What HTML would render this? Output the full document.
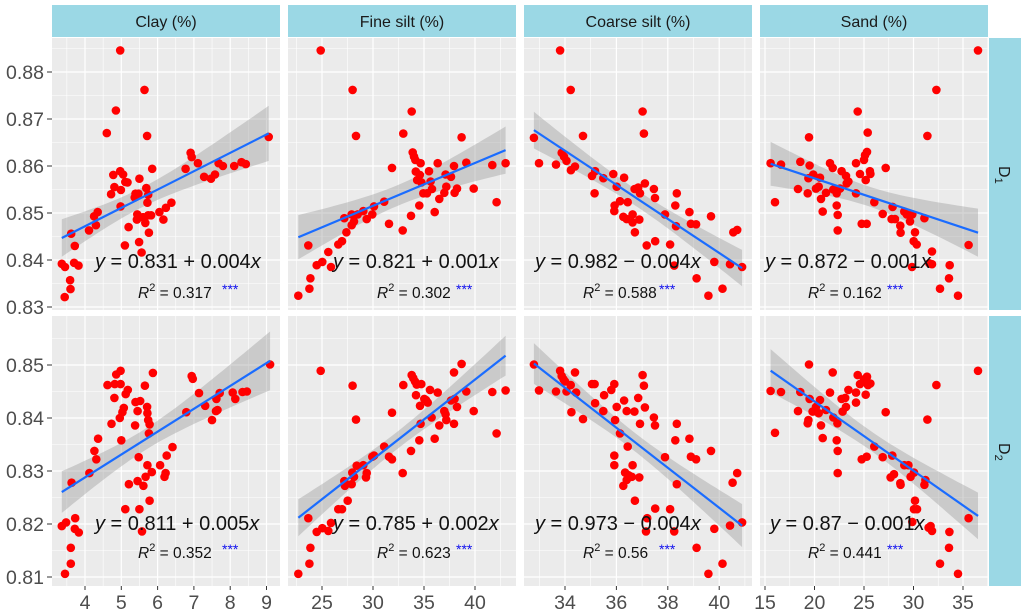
<!DOCTYPE html>
<html><head><meta charset="utf-8"><style>
html,body{margin:0;padding:0;background:#fff;width:1024px;height:616px;overflow:hidden;}
svg{display:block;font-family:"Liberation Sans",Arial,sans-serif;}
</style></head><body>
<svg id="chart" width="1024" height="616" viewBox="0 0 1024 616" xmlns="http://www.w3.org/2000/svg"></svg>
<script>
// ---------- DATA ----------
const columnTitles = ["Clay (%)", "Fine silt (%)", "Coarse silt (%)", "Sand (%)"];
const rowTitles = ["D", "D"];
const rowSubs = ["1", "2"];
const yTicksRow1 = [0.83, 0.84, 0.85, 0.86, 0.87, 0.88];
const yTicksRow2 = [0.81, 0.82, 0.83, 0.84, 0.85];
const xTicksClay = [4, 5, 6, 7, 8, 9];
const xTicksFine = [25, 30, 35, 40];
const xTicksCoarse = [34, 36, 38, 40];
const xTicksSand = [15, 20, 25, 30, 35];
const eqLabels = [
  ["0.831 + 0.004", "0.821 + 0.001", "0.982 \u2212 0.004", "0.872 \u2212 0.001"],
  ["0.811 + 0.005", "0.785 + 0.002", "0.973 \u2212 0.004", "0.87 \u2212 0.001"]
];
const r2Labels = [
  ["0.317", "0.302", "0.588", "0.162"],
  ["0.352", "0.623", "0.56", "0.441"]
];
const clayD1 = [[3.36,.8392],[3.45,.8385],[3.44,.8321],[3.60,.8338],[3.59,.8357],[3.62,.8456],[3.72,.8430],[3.70,.8394],[3.82,.8388],[4.11,.8463],[4.25,.8493],[4.30,.8474],[4.35,.8502],[4.60,.8670],[4.72,.8540],[4.78,.8581],[4.81,.8555],[4.85,.8718],[4.97,.8846],[4.97,.8589],[4.99,.8549],[4.98,.8514],[5.05,.8582],[5.11,.8566],[5.17,.8565],[5.10,.8431],[5.20,.8470],[5.37,.8533],[5.39,.8541],[5.47,.8541],[5.50,.8573],[5.44,.8497],[5.43,.8486],[5.49,.8438],[5.56,.8416],[5.60,.8491],[5.66,.8479],[5.64,.8762],[5.71,.8664],[5.69,.8553],[5.72,.8522],[5.74,.8539],[5.76,.8458],[5.74,.8495],[5.82,.8495],[5.85,.8594],[6.05,.8502],[6.16,.8486],[6.23,.8511],[6.38,.8522],[6.77,.8594],[6.91,.8628],[6.94,.8619],[7.11,.8606],[7.28,.8577],[7.47,.8573],[7.58,.8582],[7.68,.8606],[7.80,.8600],[8.11,.8600],[8.31,.8608],[8.43,.8604],[9.06,.8662]];
const fineD1 = [[22.68,.8324],[23.76,.8339],[23.86,.8361],[23.66,.8431],[24.48,.8389],[25.03,.8396],[25.62,.8417],[25.88,.8385],[24.87,.8846],[26.6,.8433],[26.96,.8440],[27.39,.8459],[27.19,.8489],[27.91,.8474],[28.14,.8482],[28.0,.8762],[28.33,.8664],[27.91,.8497],[28.5,.8497],[29.05,.8504],[29.38,.8487],[29.93,.8497],[30.1,.8514],[31.1,.8524],[31.57,.8477],[31.86,.8596],[32.91,.8463],[32.97,.8669],[33.73,.8494],[33.79,.8716],[33.89,.8629],[34.02,.8620],[34.15,.8613],[34.67,.8606],[34.2,.8588],[34.33,.8570],[34.59,.8581],[34.75,.8565],[34.54,.8516],[34.93,.8542],[35.49,.8589],[35.65,.8567],[35.78,.8551],[35.29,.8542],[36.05,.8502],[36.34,.8606],[36.5,.8530],[36.99,.8543],[37.12,.8582],[37.19,.8556],[37.65,.8577],[37.94,.8600],[38.0,.8543],[38.24,.8552],[38.69,.8661],[39.15,.8607],[39.87,.8552],[41.7,.8602],[42.12,.8523],[43.0,.8606]];
const coarseD1 = [[32.79,.8660],[32.99,.8606],[33.65,.8603],[33.81,.8846],[33.87,.8628],[33.96,.8620],[34.06,.8611],[34.22,.8762],[34.23,.8591],[34.39,.8599],[34.7,.8664],[35.05,.8579],[35.15,.8542],[35.17,.8589],[35.49,.8574],[35.88,.8583],[35.93,.8516],[35.92,.8504],[36.01,.8556],[36.14,.8525],[36.3,.8575],[36.27,.8492],[36.4,.8487],[36.44,.8523],[36.63,.8497],[36.63,.8480],[36.72,.8459],[36.71,.8551],[36.89,.8486],[36.92,.8542],[36.85,.8554],[37.02,.8716],[37.07,.8669],[37.11,.8563],[37.18,.8431],[37.46,.8551],[37.5,.8532],[37.51,.8440],[37.89,.8497],[38.09,.8433],[38.25,.8388],[38.29,.8516],[38.35,.8542],[38.32,.8472],[38.84,.8502],[38.9,.8477],[39.1,.8476],[39.12,.8361],[39.58,.8324],[39.68,.8493],[39.81,.8396],[40.13,.8339],[40.42,.8391],[40.55,.8459],[40.7,.8464],[40.89,.8385]];
const sandD1 = [[15.57,.8606],[16.01,.8523],[16.62,.8603],[18.33,.8551],[18.57,.8609],[19.31,.8542],[19.44,.8661],[19.51,.8601],[19.38,.8574],[19.88,.8582],[20.15,.8552],[20.42,.8556],[20.56,.8575],[20.66,.8530],[20.83,.8503],[21.16,.8543],[21.57,.8606],[21.84,.8596],[21.9,.8550],[22.24,.8516],[22.34,.8496],[22.34,.8463],[22.24,.8542],[22.74,.8589],[22.58,.8552],[23.18,.8579],[23.25,.8563],[23.42,.8567],[24.19,.8606],[24.19,.8542],[24.36,.8716],[24.6,.8583],[24.77,.8477],[25.27,.8477],[25.0,.8613],[25.1,.8623],[25.3,.8630],[25.37,.8671],[25.17,.8570],[25.6,.8589],[25.65,.8583],[26.04,.8523],[26.89,.8498],[27.19,.8596],[27.79,.8487],[27.89,.8513],[28.13,.8487],[28.67,.8473],[28.7,.8458],[29.07,.8503],[29.31,.8497],[29.65,.8482],[29.88,.8497],[30.15,.8459],[30.02,.8440],[30.32,.8433],[29.85,.8385],[31.1,.8489],[31.4,.8664],[31.6,.8393],[31.87,.8418],[31.87,.8391],[32.31,.8762],[32.68,.8339],[33.59,.8361],[33.66,.8389],[34.5,.8324],[35.57,.8432],[36.52,.8846]];
const clayD2 = [[3.36,.8196],[3.48,.8203],[3.45,.8106],[3.61,.8125],[3.61,.8155],[3.63,.8278],[3.73,.8211],[3.72,.8191],[3.83,.8184],[4.12,.8296],[4.26,.8338],[4.31,.8322],[4.36,.8361],[4.62,.8462],[4.73,.8389],[4.81,.8438],[4.82,.8464],[4.86,.8482],[4.98,.8489],[4.98,.8464],[5.0,.8358],[4.96,.8400],[5.03,.8411],[5.07,.8419],[5.12,.8445],[5.18,.8453],[5.11,.8228],[5.21,.8275],[5.38,.8386],[5.39,.8430],[5.48,.8326],[5.52,.8432],[5.45,.8281],[5.5,.8228],[5.57,.8186],[5.45,.8413],[5.61,.8272],[5.65,.8461],[5.71,.8421],[5.72,.8409],[5.74,.8396],[5.76,.8371],[5.78,.8388],[5.67,.8289],[5.72,.8311],[5.78,.8244],[5.84,.8298],[5.87,.8485],[6.07,.8311],[6.19,.8289],[6.22,.8296],[6.25,.8329],[6.41,.8345],[6.79,.8411],[6.94,.8479],[6.97,.8474],[7.14,.8447],[7.31,.8423],[7.5,.8396],[7.61,.8413],[7.62,.8436],[7.65,.8415],[7.71,.8447],[8.07,.8448],[8.14,.8436],[8.34,.8449],[8.46,.8450],[9.1,.8501]];
const fineD2 = [[22.68,.8106],[23.76,.8125],[23.86,.8155],[23.66,.8211],[24.48,.8185],[25.03,.8192],[25.62,.8187],[24.87,.8489],[25.88,.8202],[26.6,.8228],[26.96,.8228],[27.52,.8244],[27.19,.8281],[27.25,.8272],[27.91,.8275],[28.14,.8289],[28.0,.8461],[28.33,.8397],[27.97,.8297],[28.4,.8310],[29.05,.8311],[29.31,.8288],[29.38,.8296],[29.93,.8327],[30.1,.8329],[31.1,.8346],[31.57,.8327],[31.86,.8322],[31.86,.8410],[32.91,.8296],[32.97,.8462],[33.73,.8338],[33.79,.8481],[33.95,.8475],[34.12,.8469],[34.28,.8463],[34.74,.8464],[34.22,.8443],[34.61,.8423],[34.54,.8358],[34.67,.8389],[35.03,.8436],[35.2,.8434],[35.36,.8429],[35.59,.8453],[35.75,.8401],[36.05,.8361],[36.34,.8448],[36.5,.8386],[36.99,.8413],[37.12,.8407],[37.19,.8396],[37.65,.8433],[37.94,.8389],[38.0,.8436],[37.94,.8486],[38.24,.8421],[38.69,.8502],[39.15,.8450],[39.87,.8413],[41.7,.8449],[42.12,.8371],[43.0,.8452]];
const coarseD2 = [[32.79,.8501],[32.99,.8452],[33.65,.8450],[33.81,.8489],[33.87,.8479],[33.94,.8473],[34.0,.8469],[34.22,.8462],[34.06,.8450],[34.25,.8411],[34.39,.8486],[34.43,.8448],[34.7,.8398],[35.05,.8464],[35.15,.8464],[35.17,.8428],[35.49,.8413],[35.52,.8443],[35.8,.8453],[35.92,.8464],[35.95,.8396],[35.92,.8329],[35.92,.8311],[36.01,.8421],[36.14,.8371],[36.3,.8433],[36.4,.8413],[36.44,.8346],[36.63,.8311],[36.34,.8297],[36.47,.8292],[36.6,.8289],[36.27,.8272],[36.4,.8283],[36.72,.8244],[36.7,.8412],[36.89,.8288],[36.85,.8438],[36.92,.8389],[37.02,.8481],[37.07,.8461],[37.11,.8420],[37.2,.8211],[37.15,.8186],[37.46,.8401],[37.5,.8386],[37.51,.8229],[37.89,.8326],[38.09,.8228],[38.25,.8186],[38.29,.8358],[38.35,.8389],[38.35,.8275],[38.84,.8361],[38.9,.8327],[39.1,.8322],[39.12,.8155],[39.58,.8106],[39.68,.8338],[39.81,.8191],[40.13,.8125],[40.42,.8197],[40.52,.8278],[40.7,.8296],[40.89,.8203]];
const sandD2 = [[15.57,.8451],[16.01,.8372],[16.62,.8449],[18.33,.8413],[18.57,.8449],[19.31,.8390],[19.44,.8501],[19.51,.8436],[19.38,.8396],[19.81,.8412],[20.15,.8421],[20.42,.8409],[20.56,.8434],[20.66,.8386],[20.83,.8362],[21.16,.8415],[21.57,.8448],[21.84,.8486],[21.9,.8401],[22.24,.8358],[22.34,.8338],[22.34,.8296],[22.31,.8390],[22.74,.8436],[22.84,.8412],[23.18,.8421],[23.1,.8438],[23.42,.8453],[24.19,.8448],[24.19,.8429],[24.36,.8481],[24.6,.8464],[24.77,.8322],[25.27,.8327],[25.0,.8473],[25.1,.8469],[25.3,.8478],[25.4,.8462],[25.65,.8465],[25.17,.8444],[26.04,.8346],[26.89,.8326],[27.19,.8411],[27.86,.8329],[27.69,.8288],[28.03,.8294],[28.67,.8277],[28.7,.8274],[29.07,.8311],[29.48,.8311],[29.71,.8289],[29.88,.8204],[30.05,.8297],[30.15,.8244],[30.05,.8228],[30.35,.8228],[31.1,.8274],[31.2,.8283],[31.4,.8397],[31.53,.8193],[31.73,.8196],[31.87,.8187],[32.31,.8462],[32.68,.8125],[33.59,.8155],[33.63,.8185],[34.5,.8106],[35.57,.8211],[36.52,.8489]];

// ---------- LAYOUT / SCALES ----------
const NS = "http://www.w3.org/2000/svg";
const svg = document.getElementById("chart");
const colX0 = [52, 288, 524, 760], colW = 228;
const rowY0 = [38, 316], rowH = [272, 270];
const xRef = [[4, 85, 36.3], [25, 322, 10.2], [34, 565, 25.7], [15, 765, 9.9]];
const yRef = [[0.88, 72, 4700], [0.85, 365, 5300]];
const xScale = (c, v) => xRef[c][1] + (v - xRef[c][0]) * xRef[c][2];
const yScale = (r, v) => yRef[r][1] - (v - yRef[r][0]) * yRef[r][2];
const xTicksAll = [xTicksClay, xTicksFine, xTicksCoarse, xTicksSand];
const yTicksAll = [yTicksRow1, yTicksRow2];
const dataAll = [[clayD1, fineD1, coarseD1, sandD1], [clayD2, fineD2, coarseD2, sandD2]];
const eqX = [[95, 333, 535, 765], [95, 333, 535, 770]];
const eqY = [268, 530];
const r2X = [138, 377, 583, 808];
const r2Y = [298, 558];
const starX = [222, 456, 659, 887];

function mk(tag, attrs, parent) {
  const e = document.createElementNS(NS, tag);
  for (const k in attrs) e.setAttribute(k, attrs[k]);
  (parent || svg).appendChild(e);
  return e;
}

columnTitles.forEach((t, c) => {
  const g = mk("g", {});
  
  
  mk("rect", { x: colX0[c], y: 5, width: colW, height: 32, fill: "#9bd8e5" }, g);
  const tx = mk("text", { x: colX0[c] + colW / 2, y: 27, "text-anchor": "middle", "font-size": 16, fill: "#1a1a1a" }, g);
  tx.textContent = t;
});
rowTitles.forEach((t, r) => {
  const g = mk("g", {});
  
  
  mk("rect", { x: 989, y: rowY0[r], width: 32, height: rowH[r], fill: "#9bd8e5" }, g);
  const cy = rowY0[r] + rowH[r] / 2;
  const tx = mk("text", { x: 0, y: 0, "font-size": 16, fill: "#1a1a1a", transform: `translate(999,${cy - 8}) rotate(90)` }, g);
  tx.textContent = t;
  const ts = mk("tspan", { "font-size": 11, dy: 4 }, tx);
  ts.textContent = rowSubs[r];
});

function fit(pts) {
  const n = pts.length;
  let mx = 0, my = 0;
  pts.forEach(p => { mx += p[0]; my += p[1]; });
  mx /= n; my /= n;
  let sxx = 0, sxy = 0;
  pts.forEach(p => { sxx += (p[0] - mx) ** 2; sxy += (p[0] - mx) * (p[1] - my); });
  const b = sxy / sxx, a = my - b * mx;
  let sse = 0;
  pts.forEach(p => { sse += (p[1] - a - b * p[0]) ** 2; });
  const s = Math.sqrt(sse / (n - 2));
  return { a, b, s, mx, sxx, n };
}

for (let r = 0; r < 2; r++) {
  for (let c = 0; c < 4; c++) {
    const x0 = colX0[c], y0 = rowY0[r], h = rowH[r];
    const panel = mk("g", {});
    
    
    mk("rect", { x: x0, y: y0, width: colW, height: h, fill: "#ebebeb" }, panel);
    const clip = mk("clipPath", { id: `cp${r}${c}` }, panel);
    mk("rect", { x: x0, y: y0, width: colW, height: h }, clip);
    const inner = mk("g", { "clip-path": `url(#cp${r}${c})` }, panel);
    const yt = yTicksAll[r], xt = xTicksAll[c];
    const ystep = yt[1] - yt[0], xstep = xt[1] - xt[0];
    for (let v = yt[0] - ystep * 1.5; v <= yt[yt.length - 1] + ystep * 1.6; v += ystep / 2) {
      const k = Math.round((v - yt[0]) / (ystep / 2));
      const py = yScale(r, v);
      mk("line", { x1: x0, x2: x0 + colW, y1: py, y2: py, stroke: "#fff", "stroke-width": k % 2 === 0 ? 1.2 : 0.6 }, inner);
    }
    for (let v = xt[0] - xstep * 1.5; v <= xt[xt.length - 1] + xstep * 1.6; v += xstep / 2) {
      const k = Math.round((v - xt[0]) / (xstep / 2));
      const px = xScale(c, v);
      mk("line", { y1: y0, y2: y0 + h, x1: px, x2: px, stroke: "#fff", "stroke-width": k % 2 === 0 ? 1.2 : 0.6 }, inner);
    }
    const pts = dataAll[r][c];
    const f = fit(pts);
    let xmin = Infinity, xmax = -Infinity;
    pts.forEach(p => { xmin = Math.min(xmin, p[0]); xmax = Math.max(xmax, p[0]); });
    const up = [], lo = [];
    for (let i = 0; i <= 40; i++) {
      const xv = xmin + (xmax - xmin) * i / 40;
      const yv = f.a + f.b * xv;
      const se = f.s * Math.sqrt(1 / f.n + (xv - f.mx) ** 2 / f.sxx) * 1.99;
      up.push(`${xScale(c, xv).toFixed(1)},${yScale(r, yv + se).toFixed(1)}`);
      lo.unshift(`${xScale(c, xv).toFixed(1)},${yScale(r, yv - se).toFixed(1)}`);
    }
    const band = mk("polygon", { points: up.concat(lo).join(" "), fill: "#999", "fill-opacity": 0.4 }, inner);
    
    
    pts.forEach(p => {
      const dot = mk("circle", { cx: xScale(c, p[0]).toFixed(1), cy: yScale(r, p[1]).toFixed(1), r: 4.3, fill: "#ff0000" }, inner);
      
      
    });
    const ln = mk("line", { x1: xScale(c, xmin), y1: yScale(r, f.a + f.b * xmin), x2: xScale(c, xmax), y2: yScale(r, f.a + f.b * xmax), stroke: "#1a6cff", "stroke-width": 2.2 }, inner);
    
    
    const eq = mk("text", { x: eqX[r][c], y: eqY[r], "font-size": 20, fill: "#111" }, panel);
    
    
    const t1 = mk("tspan", { "font-style": "italic" }, eq); t1.textContent = "y";
    const t2 = mk("tspan", {}, eq); t2.textContent = " = " + eqLabels[r][c];
    const t3 = mk("tspan", { "font-style": "italic" }, eq); t3.textContent = "x";
    const r2 = mk("text", { x: r2X[c], y: r2Y[r], "font-size": 15.5, fill: "#111" }, panel);
    
    
    const a1 = mk("tspan", { "font-style": "italic" }, r2); a1.textContent = "R";
    const a2 = mk("tspan", { "font-size": 11, dy: -7 }, r2); a2.textContent = "2";
    const a3 = mk("tspan", { dy: 7 }, r2); a3.textContent = " = " + r2Labels[r][c];
    const st = mk("text", { x: starX[c], y: r2Y[r] - 4, "font-size": 14, fill: "#1010ee" }, panel);
    
    
    st.textContent = "***";
  }
}
for (let r = 0; r < 2; r++) {
  const g = mk("g", {});
  
  
  yTicksAll[r].forEach(v => {
    const py = yScale(r, v);
    mk("line", { x1: 47, x2: 52, y1: py, y2: py, stroke: "#333", "stroke-width": 1 }, g);
    const t = mk("text", { x: 44, y: py + 7, "text-anchor": "end", "font-size": 19.5, fill: "#4d4d4d" }, g);
    t.textContent = v.toFixed(2);
  });
}
for (let c = 0; c < 4; c++) {
  const g = mk("g", {});
  
  
  xTicksAll[c].forEach(v => {
    const px = xScale(c, v);
    mk("line", { x1: px, x2: px, y1: 586, y2: 590, stroke: "#333", "stroke-width": 1 }, g);
    const t = mk("text", { x: px, y: 609, "text-anchor": "middle", "font-size": 19.5, fill: "#4d4d4d" }, g);
    t.textContent = String(v);
  });
}
</script>
</body></html>
